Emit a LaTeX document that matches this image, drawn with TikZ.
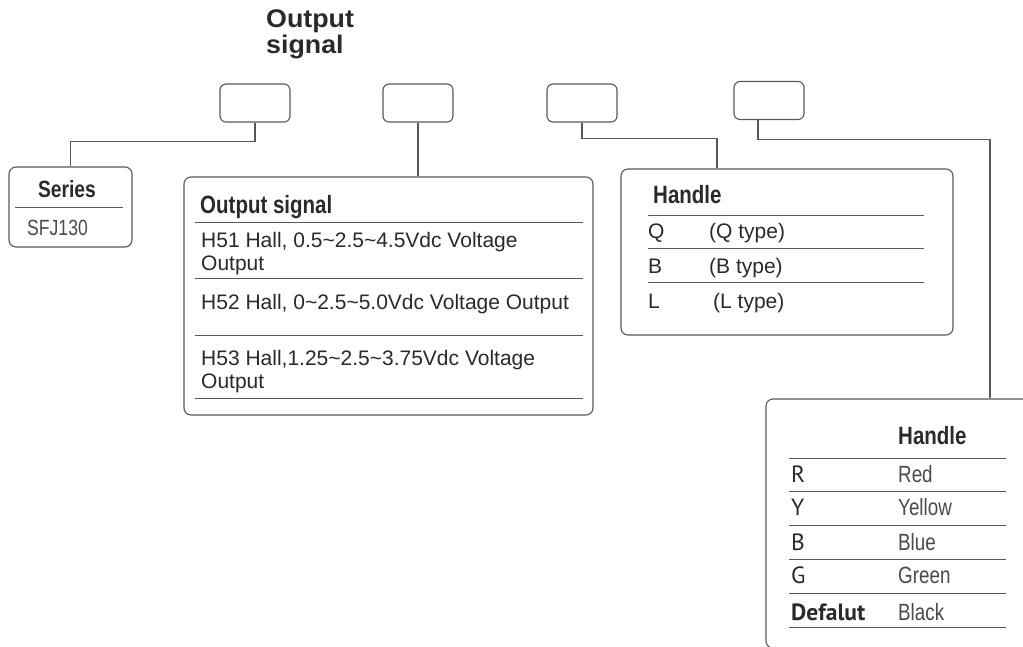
\documentclass[tikz,border=0pt]{standalone}
\usepackage{fontspec}
\usepackage{tikz}
\usetikzlibrary{positioning}
\usepackage{xcolor}
\setmainfont{Liberation Sans}
\newfontfamily\headfont[FakeStretch=0.82]{Liberation Sans}
\newfontfamily\condfont[FakeStretch=0.8]{Liberation Sans}
\newfontfamily\titlefont[FakeStretch=1.05]{Liberation Sans}
\newfontfamily\keyfont{PT Sans}
\definecolor{linegray}{HTML}{585858}
\definecolor{inkgray}{HTML}{2A2A2A}

\tikzset{
  codebox/.style={draw=linegray, line width=1.1pt, rounded corners=6pt, minimum width=70pt, minimum height=38pt, inner sep=0pt},
  panel/.style={draw=linegray, line width=1.1pt, rounded corners=7pt, inner sep=0pt},
  wire/.style={draw=linegray, line width=1.1pt},
  rule/.style={draw=linegray, line width=1pt},
  head/.style={anchor=base west, inner sep=0pt, text=inkgray, font=\headfont\bfseries\fontsize{25}{25}\selectfont},
  cell/.style={anchor=base west, inner sep=0pt, text=inkgray, align=left, font=\fontsize{21}{23}\selectfont},
  slim/.style={anchor=base west, inner sep=0pt, text=inkgray!85, font=\condfont\fontsize{22}{22}\selectfont},
  tint/.style={slim, font=\condfont\fontsize{23.5}{23.5}\selectfont},
  key/.style={anchor=base west, inner sep=0pt, text=inkgray, font=\keyfont\fontsize{23.5}{23.5}\selectfont}
}

\begin{document}
\begin{tikzpicture}[x=1pt, y=-1pt]
    \path[use as bounding box, fill=white] (0,0) rectangle (1023,646);
    \clip (0,0) rectangle (1023,646);

    \node[anchor=base west, inner sep=0pt, align=left, text=inkgray, font=\titlefont\bfseries\fontsize{25.5}{26}\selectfont] (title) at (266,53) {Output\\signal};

    \node[codebox] (c1) at (255,103) {};
    \node[codebox] (c2) at (418,103) {};
    \node[codebox] (c3) at (582,103) {};
    \node[codebox] (c4) at (769,100.5) {};

    \node[panel, minimum width=123pt, minimum height=80pt] (series) at (70.5,207) {};
    \node[panel, minimum width=409pt, minimum height=238pt] (signal) at (388.5,296) {};
    \node[panel, minimum width=332pt, minimum height=166pt] (handle) at (787,252) {};
    \node[panel, minimum width=274pt, minimum height=249pt] (colour) at (903,523.5) {};

    \draw[wire] (c1.south) -- ++(0,19) -| (series.north);
    \draw[wire] (c2.south) -- (c2.south |- signal.north);
    \draw[wire] (c3.south) -- ++(0,16) -| ([xshift=-70pt]handle.north);
    \draw[wire] ([xshift=-11pt]c4.south) -- ++(0,19) -| ([xshift=87pt]colour.north);

    \node[head, anchor=base, font=\headfont\bfseries\fontsize{23.5}{23.5}\selectfont] (sername) at (67,197) {Series};
    \draw[rule] (15,207) -- (123,207);
    \node[slim] (sercode) at (27,235) {SFJ130};

    \node[head] (signame) at (200,213) {Output signal};
    \foreach \y in {222,278,335,398}
        \draw[rule] (195,\y) -- (583,\y);
    \node[cell] (h51) at (201,270) {H51 Hall, 0.5\textasciitilde2.5\textasciitilde4.5Vdc Voltage\\Output};
    \node[cell] (h52) at (201,309) {H52 Hall, 0\textasciitilde2.5\textasciitilde5.0Vdc Voltage Output};
    \node[cell] (h53) at (201,388) {H53 Hall,1.25\textasciitilde2.5\textasciitilde3.75Vdc Voltage\\Output};

    \node[head] (hdlname) at (653,203) {Handle};
    \foreach \y in {215,248,282}
        \draw[rule] (648,\y) -- (924,\y);
    \node[cell] (kq) at (648,238) {Q};
    \node[cell] (vq) at (709,238) {(Q type)};
    \node[cell] (kb) at (648,273) {B};
    \node[cell] (vb) at (709,273) {(B type)};
    \node[cell] (kl) at (648,308) {L};
    \node[cell] (vl) at (713,308) {(L type)};

    \node[head] (colname) at (898,444) {Handle};
    \foreach \y in {458,491,525,559,593,627}
        \draw[rule] (789,\y) -- (1006,\y);
    \node[key] (kr) at (791,482) {R};
    \node[tint] (vr) at (898,482) {Red};
    \node[key] (ky) at (791,515) {Y};
    \node[tint] (vy) at (898,515) {Yellow};
    \node[key] (kbl) at (791,550) {B};
    \node[tint] (vbl) at (898,550) {Blue};
    \node[key] (kg) at (791,583) {G};
    \node[tint] (vg) at (898,583) {Green};
    \node[key, font=\keyfont\bfseries\fontsize{23.5}{23.5}\selectfont] (kd) at (791,620) {Defalut};
    \node[tint] (vd) at (898,620) {Black};
\end{tikzpicture}
\end{document}
